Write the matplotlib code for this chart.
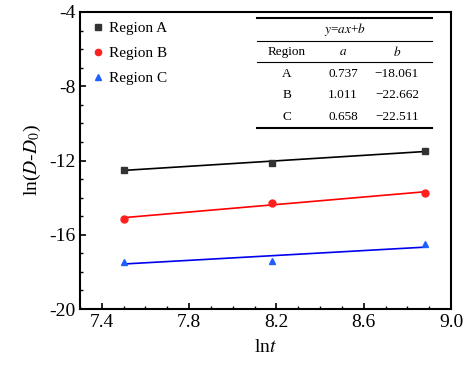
import matplotlib.pyplot as plt
import numpy as np
from matplotlib.ticker import MultipleLocator

plt.rcParams['font.family'] = ['Liberation Serif', 'DejaVu Serif']
plt.rcParams['mathtext.fontset'] = 'stix'
plt.rcParams['axes.unicode_minus'] = False

# ln t values and ln(D-D0) measured for each region
lnt = [7.50, 8.18, 8.88]
region_a = [-12.51, -12.15, -11.47]
region_b = [-15.15, -14.27, -13.73]
region_c = [-17.45, -17.40, -16.51]

# linear fit parameters y = a x + b
fit_regions = ['A', 'B', 'C']
fit_a = [0.737, 1.011, 0.658]
fit_b = [-18.061, -22.662, -22.511]

series = [
    ('Region A', region_a, 's', '#333333', 'black'),
    ('Region B', region_b, 'o', '#ff2020', '#ff0000'),
    ('Region C', region_c, '^', '#1f5fff', '#0000ee'),
]

fig = plt.figure(figsize=(4.68, 3.75), dpi=100)
ax = fig.add_axes([80/468, 1 - 309/375, 371/468, 297/375])

xfit = np.array([lnt[0], lnt[-1]])
for (label, ys, mk, mcol, lcol), a, b in zip(series, fit_a, fit_b):
    ax.plot(xfit, a * xfit + b, color=lcol, lw=1.2, zorder=2)
    ax.plot(lnt, ys, ls='none', marker=mk, ms=5, color=mcol,
            label=label, zorder=3)

ax.set_xlim(7.3, 9.0)
ax.set_ylim(-20, -4)
ax.xaxis.set_minor_locator(MultipleLocator(0.1))
ax.yaxis.set_major_locator(MultipleLocator(4))
ax.yaxis.set_minor_locator(MultipleLocator(1))
ax.set_xticks([7.4, 7.8, 8.2, 8.6, 9.0])
ax.tick_params(which='both', direction='in', labelsize=14, top=False, right=False)
ax.tick_params(which='major', length=4, width=1.2)
ax.tick_params(which='minor', length=2.5, width=1.0)
for s in ax.spines.values():
    s.set_linewidth(1.5)

ax.set_xlabel(r'ln$\it{t}$', fontsize=14, labelpad=6)
ax.set_ylabel(r'ln($\it{D}$-$\it{D}_0$)', fontsize=14, labelpad=4)

ax.legend(loc='upper left', frameon=False, fontsize=11, handletextpad=0.1,
          handlelength=1.2, labelspacing=0.75, borderaxespad=0.3,
          borderpad=0.3, markerscale=0.9)

# inset table of fit parameters (axes fraction coordinates)
def fx(px):
    return (px - 80) / 371

def fy(py):
    return (309 - py) / 297

x0, x1 = fx(257), fx(432)
colx = [fx(287), fx(343), fx(397)]
for py, lw in [(18, 1.5), (41, 0.8), (62, 0.8), (128, 1.5)]:
    ax.plot([x0, x1], [fy(py)] * 2, color='black', lw=lw,
            transform=ax.transAxes, clip_on=False)
ax.text((x0 + x1) / 2, fy(30), r'$\it{y}$=$\it{ax}$+$\it{b}$', transform=ax.transAxes,
        ha='center', va='center', fontsize=9.5)
for cx, h in zip(colx, ['Region', r'$\it{a}$', r'$\it{b}$']):
    ax.text(cx, fy(52), h, transform=ax.transAxes, ha='center', va='center',
            fontsize=9.5)
for i, (r, a, b) in enumerate(zip(fit_regions, fit_a, fit_b)):
    yy = fy(74 + i * 21.5)
    ax.text(colx[0], yy, r, transform=ax.transAxes, ha='center', va='center', fontsize=9.5)
    ax.text(colx[1], yy, f'{a:.3f}', transform=ax.transAxes, ha='center', va='center', fontsize=9.5)
    ax.text(colx[2], yy, f'\u2212{abs(b):.3f}', transform=ax.transAxes, ha='center',
            va='center', fontsize=9.5)

fig.savefig('out.png', dpi=100)
